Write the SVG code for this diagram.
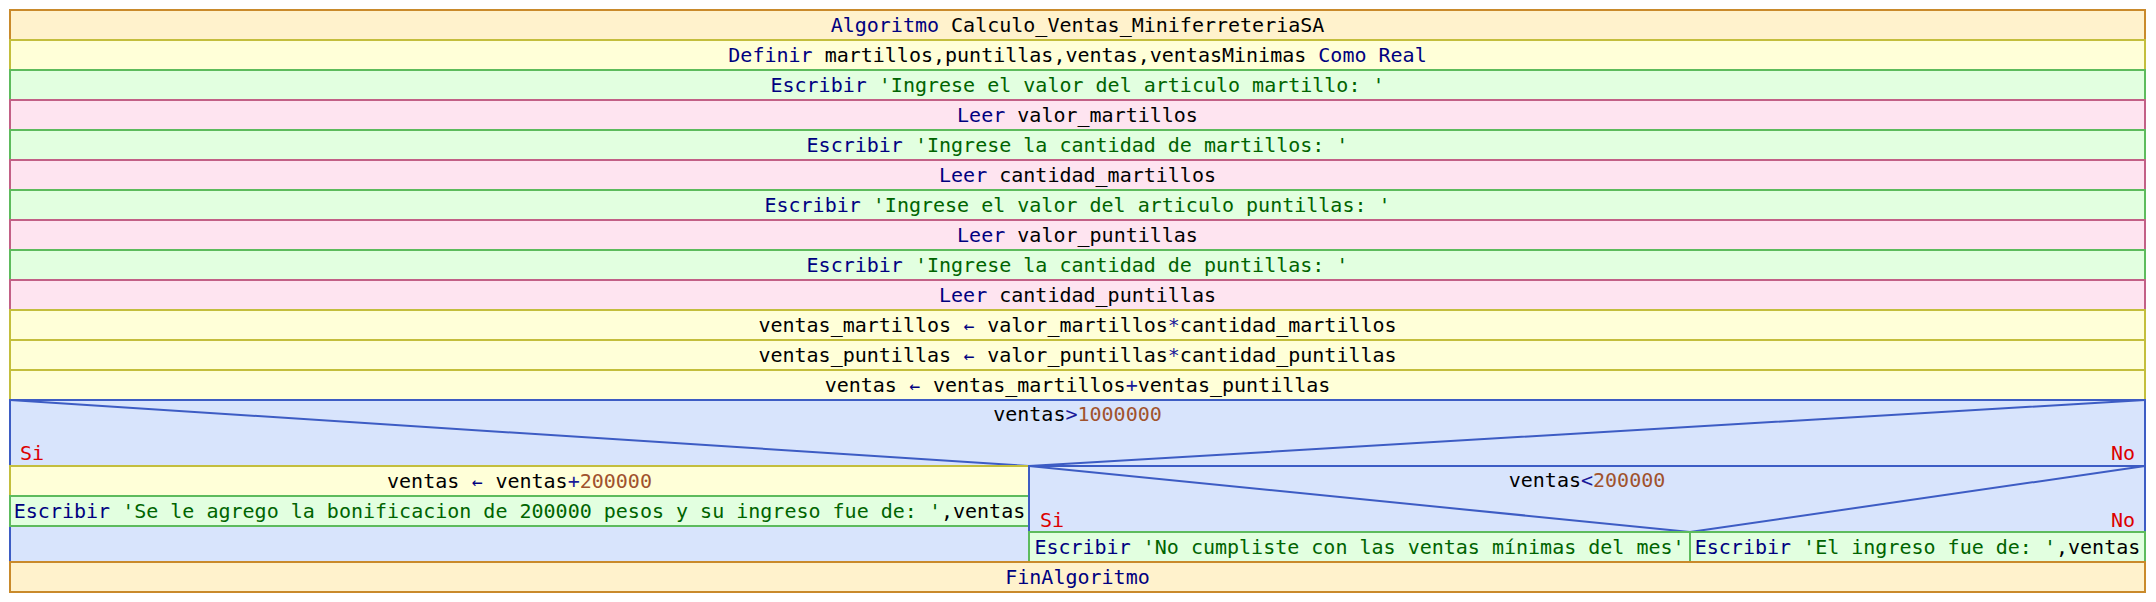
<svg xmlns="http://www.w3.org/2000/svg" width="2156" height="602" viewBox="0 0 2156 602">
<style>
rect, line, polyline { stroke-width: 2; }
.alg { fill: #fff2cc; stroke: #c98a2b; }
.asg { fill: #ffffd8; stroke: #c3be3d; }
.esc { fill: #e2ffe0; stroke: #5dbb5d; }
.lee { fill: #fee4f0; stroke: #c26086; }
.dec { fill: #d8e4fc; stroke: #3d5cc4; }
.dl { fill: none; stroke: #3d5cc4; }
text { font-family: "DejaVu Sans Mono", "Liberation Mono", monospace; font-size: 20px; fill: #000000; text-anchor: middle; }
.k { fill: #000080; }
.s { fill: #006400; }
.n { fill: #a0522d; }
.o { fill: #1a1a9a; }
.r { fill: #dd0000; }
.ar { fill: #000080; font-size: 18px; }
</style>
<g id="n-algoritmo"><rect class="alg" x="10" y="10" width="2135" height="30"/><text x="1077.5" y="32"><tspan class="k">Algoritmo </tspan>Calculo_Ventas_MiniferreteriaSA</text></g>
<g id="n-definir"><rect class="asg" x="10" y="40" width="2135" height="30"/><text x="1077.5" y="62"><tspan class="k">Definir </tspan>martillos,puntillas,ventas,ventasMinimas<tspan class="k"> Como Real</tspan></text></g>
<g id="n-esc1"><rect class="esc" x="10" y="70" width="2135" height="30"/><text x="1077.5" y="92"><tspan class="k">Escribir </tspan><tspan class="s">'Ingrese el valor del articulo martillo: '</tspan></text></g>
<g id="n-leer1"><rect class="lee" x="10" y="100" width="2135" height="30"/><text x="1077.5" y="122"><tspan class="k">Leer </tspan>valor_martillos</text></g>
<g id="n-esc2"><rect class="esc" x="10" y="130" width="2135" height="30"/><text x="1077.5" y="152"><tspan class="k">Escribir </tspan><tspan class="s">'Ingrese la cantidad de martillos: '</tspan></text></g>
<g id="n-leer2"><rect class="lee" x="10" y="160" width="2135" height="30"/><text x="1077.5" y="182"><tspan class="k">Leer </tspan>cantidad_martillos</text></g>
<g id="n-esc3"><rect class="esc" x="10" y="190" width="2135" height="30"/><text x="1077.5" y="212"><tspan class="k">Escribir </tspan><tspan class="s">'Ingrese el valor del articulo puntillas: '</tspan></text></g>
<g id="n-leer3"><rect class="lee" x="10" y="220" width="2135" height="30"/><text x="1077.5" y="242"><tspan class="k">Leer </tspan>valor_puntillas</text></g>
<g id="n-esc4"><rect class="esc" x="10" y="250" width="2135" height="30"/><text x="1077.5" y="272"><tspan class="k">Escribir </tspan><tspan class="s">'Ingrese la cantidad de puntillas: '</tspan></text></g>
<g id="n-leer4"><rect class="lee" x="10" y="280" width="2135" height="30"/><text x="1077.5" y="302"><tspan class="k">Leer </tspan>cantidad_puntillas</text></g>
<g id="n-asg1"><rect class="asg" x="10" y="310" width="2135" height="30"/><text x="1077.5" y="332">ventas_martillos <tspan class="ar" dx="0.6">←</tspan><tspan dx="0.6"> valor_martillos</tspan><tspan class="o">*</tspan>cantidad_martillos</text></g>
<g id="n-asg2"><rect class="asg" x="10" y="340" width="2135" height="30"/><text x="1077.5" y="362">ventas_puntillas <tspan class="ar" dx="0.6">←</tspan><tspan dx="0.6"> valor_puntillas</tspan><tspan class="o">*</tspan>cantidad_puntillas</text></g>
<g id="n-asg3"><rect class="asg" x="10" y="370" width="2135" height="30"/><text x="1077.5" y="392">ventas <tspan class="ar" dx="0.6">←</tspan><tspan dx="0.6"> ventas_martillos</tspan><tspan class="o">+</tspan>ventas_puntillas</text></g>
<g id="n-decision1">
<rect class="dec" x="10" y="400" width="2135" height="162"/>
<polyline class="dl" points="10,400 1029,466 2145,400"/>
<line class="dl" x1="1029" y1="466" x2="2145" y2="466"/>
<text x="1077.5" y="421">ventas<tspan class="o">&gt;</tspan><tspan class="n">1000000</tspan></text>
<text class="r" x="20" y="460" style="text-anchor:start">Si</text>
<text class="r" x="2135" y="460" style="text-anchor:end">No</text>
</g>
<g id="n-asg4"><rect class="asg" x="10" y="466" width="1019" height="30"/><text x="519.5" y="488">ventas <tspan class="ar" dx="0.6">←</tspan><tspan dx="0.6"> ventas</tspan><tspan class="o">+</tspan><tspan class="n">200000</tspan></text></g>
<g id="n-esc5"><rect class="esc" x="10" y="496" width="1019" height="30"/><text x="519.5" y="518"><tspan class="k">Escribir </tspan><tspan class="s">'Se le agrego la bonificacion de 200000 pesos y su ingreso fue de: '</tspan>,ventas</text></g>
<g id="n-decision2">
<rect class="dec" x="1029" y="466" width="1116" height="96"/>
<polyline class="dl" points="1029,466 1690,532 2145,466"/>
<text x="1587" y="487">ventas<tspan class="o">&lt;</tspan><tspan class="n">200000</tspan></text>
<text class="r" x="1040" y="527" style="text-anchor:start">Si</text>
<text class="r" x="2135" y="527" style="text-anchor:end">No</text>
</g>
<g id="n-esc6"><rect class="esc" x="1029" y="532" width="661" height="30"/><text x="1359.5" y="554"><tspan class="k">Escribir </tspan><tspan class="s">'No cumpliste con las ventas mínimas del mes'</tspan></text></g>
<g id="n-esc7"><rect class="esc" x="1690" y="532" width="455" height="30"/><text x="1917.5" y="554"><tspan class="k">Escribir </tspan><tspan class="s">'El ingreso fue de: '</tspan>,ventas</text></g>
<g id="n-fin"><rect class="alg" x="10" y="562" width="2135" height="30"/><text x="1077.5" y="584"><tspan class="k">FinAlgoritmo</tspan></text></g>
<g id="connectors"></g>
</svg>
